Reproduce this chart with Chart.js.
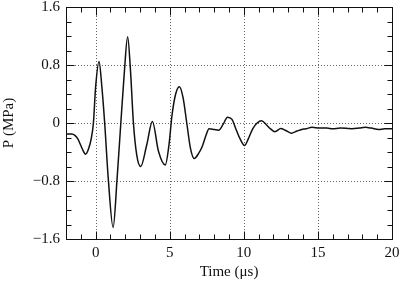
<!DOCTYPE html>
<html>
<head>
<meta charset="utf-8">
<script src="https://cdn.jsdelivr.net/npm/chart.js@4.4.1/dist/chart.umd.min.js"></script>
<style>
  html, body { margin: 0; padding: 0; background: #fff; }
  #wrap { width: 400px; height: 282px; }
</style>
</head>
<body>
<div id="wrap"><canvas id="chart" width="400" height="282"></canvas></div>
<script>
// Datos (tiempo en us, presion en MPa)
const timeUs = [-2.0, -1.6, -1.4, -1.2, -1.0, -0.8, -0.68, -0.5, -0.3, -0.15,
  0.0, 0.23, 0.42, 0.61, 0.85, 1.18, 1.45, 1.7, 1.92, 2.16,
  2.35, 2.55, 2.78, 3.04, 3.45, 3.83, 4.24, 4.7, 4.95, 5.15,
  5.4, 5.65, 5.9, 6.15, 6.4, 6.65, 6.95, 7.2, 7.45, 7.65,
  8.0, 8.3, 8.6, 8.9, 9.2, 9.5, 9.75, 10.05, 10.3, 10.6,
  10.9, 11.2, 11.5, 11.8, 12.1, 12.5, 12.8, 13.2, 13.6, 13.9,
  14.2, 14.6, 15.1, 15.6, 16.0, 16.5, 17.0, 17.3, 17.8, 18.2,
  18.6, 19.1, 19.5, 20.0];
const pressure = [-0.15, -0.15, -0.17, -0.22, -0.31, -0.40, -0.43, -0.37, -0.22, 0.0,
  0.5, 0.85, 0.5, 0.0, -0.76, -1.44, -0.76, 0.0, 0.65, 1.19,
  0.73, 0.0, -0.45, -0.60, -0.30, 0.02, -0.39, -0.58, -0.30, 0.1,
  0.4, 0.50, 0.35, 0.0, -0.35, -0.49, -0.42, -0.32, -0.17, -0.08,
  -0.09, -0.10, -0.02, 0.08, 0.05, -0.10, -0.22, -0.31, -0.22, -0.08,
  0.0, 0.03, -0.02, -0.08, -0.12, -0.075, -0.10, -0.14, -0.11, -0.09,
  -0.08, -0.06, -0.07, -0.07, -0.08, -0.07, -0.075, -0.08, -0.07, -0.06,
  -0.07, -0.09, -0.08, -0.08];

const xTicks = [0, 5, 10, 15, 20];
const yTicks = [-1.6, -0.8, 0, 0.8, 1.6];

const FONT = { family: 'Liberation Serif', size: 15 };
const INK = '#111';

// Rejilla punteada, marco y marcas hacia dentro (estilo gnuplot)
const framePlugin = {
  id: 'frame',
  beforeDatasetsDraw(chart) {
    const { ctx, chartArea: a, scales: { x, y } } = chart;
    ctx.save();
    ctx.strokeStyle = '#666';
    ctx.lineWidth = 1;
    ctx.setLineDash([1, 2]);
    ctx.beginPath();
    xTicks.forEach(v => {
      if (v <= x.min || v >= x.max) return;
      const px = Math.round(x.getPixelForValue(v)) + 0.5;
      ctx.moveTo(px, a.top); ctx.lineTo(px, a.bottom);
    });
    yTicks.forEach(v => {
      if (v <= y.min || v >= y.max) return;
      const py = Math.round(y.getPixelForValue(v)) + 0.5;
      ctx.moveTo(a.left, py); ctx.lineTo(a.right, py);
    });
    ctx.stroke();
    ctx.restore();
  },
  afterDatasetsDraw(chart) {
    const { ctx, chartArea: a, scales: { x, y } } = chart;
    const L = Math.round(a.left) + 0.5, R = Math.round(a.right) + 0.5;
    const T = Math.round(a.top) + 0.5, B = Math.round(a.bottom) + 0.5;
    ctx.save();
    ctx.strokeStyle = INK;
    ctx.lineWidth = 1;
    ctx.beginPath();
    // marcas menores cada 1 us y cada 0.2 MPa
    for (let i = Math.ceil(x.min); i <= x.max; i++) {
      const px = Math.round(x.getPixelForValue(i)) + 0.5;
      const len = i % 5 === 0 ? 8 : 5;
      ctx.moveTo(px, B); ctx.lineTo(px, B - len);
      ctx.moveTo(px, T); ctx.lineTo(px, T + len);
    }
    for (let k = -8; k <= 8; k++) {
      const py = Math.round(y.getPixelForValue(k * 0.2)) + 0.5;
      const len = k % 4 === 0 ? 8 : 5;
      ctx.moveTo(L, py); ctx.lineTo(L + len, py);
      ctx.moveTo(R, py); ctx.lineTo(R - len, py);
    }
    ctx.stroke();
    ctx.strokeRect(L, T, R - L, B - T);
    ctx.restore();
  }
};

function fmtY(v) {
  if (Math.abs(v) < 1e-9) return '0';
  return (v < 0 ? '\u2212' : '') + Math.abs(v).toFixed(1);
}

new Chart(document.getElementById('chart'), {
  type: 'line',
  data: {
    labels: timeUs,
    datasets: [{
      data: timeUs.map((t, i) => ({ x: t, y: pressure[i] })),
      borderColor: INK,
      borderWidth: 1.5,
      pointRadius: 0,
      fill: false,
      cubicInterpolationMode: 'monotone'
    }]
  },
  options: {
    responsive: false,
    animation: false,
    events: [],
    layout: { padding: { left: 0, right: 8, top: 7, bottom: 0 } },
    plugins: { legend: { display: false }, tooltip: { enabled: false } },
    scales: {
      x: {
        type: 'linear',
        min: -2, max: 20,
        grid: { display: false, drawTicks: false },
        border: { display: false },
        afterBuildTicks: s => { s.ticks = xTicks.map(v => ({ value: v })); },
        afterFit: s => { s.height = 43; s.paddingLeft = 0; s.paddingRight = 0; },
        ticks: { color: INK, font: FONT, padding: 5, maxRotation: 0, autoSkip: false,
                 callback: v => String(v) },
        title: { display: true, text: 'Time (\u03bcs)', color: INK, font: FONT,
                 padding: { top: 0, bottom: 1 } }
      },
      y: {
        min: -1.6, max: 1.6,
        grid: { display: false, drawTicks: false },
        border: { display: false },
        afterBuildTicks: s => { s.ticks = yTicks.map(v => ({ value: v })); },
        afterFit: s => { s.width = 66; s.paddingTop = 0; s.paddingBottom = 0; },
        ticks: { color: INK, font: FONT, padding: 6, autoSkip: false, callback: fmtY },
        title: { display: true, text: 'P (MPa)', color: INK, font: FONT,
                 padding: { top: 0, bottom: 0 } }
      }
    }
  },
  plugins: [framePlugin]
});
</script>
</body>
</html>
